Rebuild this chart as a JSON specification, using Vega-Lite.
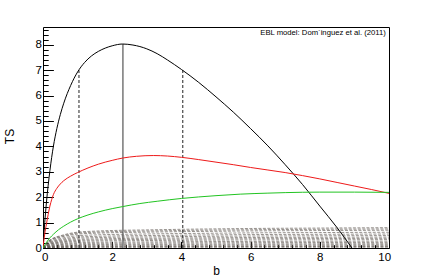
{
  "$schema": "https://vega.github.io/schema/vega-lite/v6.json",
  "width": 346,
  "height": 221,
  "autosize": {"type": "none"},
  "padding": {"left": 43, "top": 27, "right": 44, "bottom": 28},
  "background": "white",
  "config": {
    "view": {"stroke": "black", "strokeWidth": 1},
    "font": "Liberation Sans"
  },
  "datasets": {
    "curves": [
      {"c":"k","b":0,"t":0},{"c":"k","b":0.05,"t":1.0},{"c":"k","b":0.1,"t":1.8},{"c":"k","b":0.2,"t":3.05},{"c":"k","b":0.3,"t":4.0},{"c":"k","b":0.4,"t":4.7},{"c":"k","b":0.5,"t":5.25},{"c":"k","b":0.6,"t":5.7},{"c":"k","b":0.8,"t":6.4},{"c":"k","b":1.0,"t":6.93},{"c":"k","b":1.2,"t":7.3},{"c":"k","b":1.4,"t":7.56},{"c":"k","b":1.6,"t":7.74},{"c":"k","b":1.8,"t":7.87},{"c":"k","b":2.0,"t":7.96},{"c":"k","b":2.3,"t":8.03},{"c":"k","b":2.6,"t":7.99},{"c":"k","b":2.8,"t":7.93},{"c":"k","b":3.0,"t":7.84},{"c":"k","b":3.3,"t":7.65},{"c":"k","b":3.6,"t":7.4},{"c":"k","b":4.0,"t":7.03},{"c":"k","b":4.5,"t":6.52},{"c":"k","b":5.0,"t":5.95},{"c":"k","b":5.5,"t":5.35},{"c":"k","b":6.0,"t":4.7},{"c":"k","b":6.5,"t":4.02},{"c":"k","b":7.0,"t":3.28},{"c":"k","b":7.5,"t":2.5},{"c":"k","b":8.0,"t":1.65},{"c":"k","b":8.5,"t":0.8},{"c":"k","b":8.93,"t":0.0},
      {"c":"r","b":0,"t":0},{"c":"r","b":0.05,"t":0.55},{"c":"r","b":0.1,"t":0.95},{"c":"r","b":0.2,"t":1.65},{"c":"r","b":0.3,"t":2.1},{"c":"r","b":0.4,"t":2.35},{"c":"r","b":0.5,"t":2.52},{"c":"r","b":0.6,"t":2.65},{"c":"r","b":0.8,"t":2.83},{"c":"r","b":1.0,"t":2.97},{"c":"r","b":1.3,"t":3.15},{"c":"r","b":1.6,"t":3.3},{"c":"r","b":2.0,"t":3.45},{"c":"r","b":2.3,"t":3.54},{"c":"r","b":2.7,"t":3.61},{"c":"r","b":3.2,"t":3.64},{"c":"r","b":3.6,"t":3.62},{"c":"r","b":4.0,"t":3.57},{"c":"r","b":4.5,"t":3.48},{"c":"r","b":5.0,"t":3.38},{"c":"r","b":5.5,"t":3.28},{"c":"r","b":6.0,"t":3.17},{"c":"r","b":6.5,"t":3.07},{"c":"r","b":7.0,"t":2.97},{"c":"r","b":7.5,"t":2.85},{"c":"r","b":8.0,"t":2.72},{"c":"r","b":8.5,"t":2.58},{"c":"r","b":9.0,"t":2.44},{"c":"r","b":9.5,"t":2.3},{"c":"r","b":10,"t":2.15},
      {"c":"g","b":0,"t":0},{"c":"g","b":0.05,"t":0.12},{"c":"g","b":0.1,"t":0.22},{"c":"g","b":0.2,"t":0.4},{"c":"g","b":0.3,"t":0.54},{"c":"g","b":0.45,"t":0.72},{"c":"g","b":0.6,"t":0.86},{"c":"g","b":0.8,"t":1.02},{"c":"g","b":1.0,"t":1.15},{"c":"g","b":1.3,"t":1.3},{"c":"g","b":1.6,"t":1.42},{"c":"g","b":2.0,"t":1.55},{"c":"g","b":2.3,"t":1.63},{"c":"g","b":2.8,"t":1.75},{"c":"g","b":3.3,"t":1.84},{"c":"g","b":4.0,"t":1.95},{"c":"g","b":4.5,"t":2.01},{"c":"g","b":5.0,"t":2.06},{"c":"g","b":5.7,"t":2.12},{"c":"g","b":6.5,"t":2.16},{"c":"g","b":7.0,"t":2.18},{"c":"g","b":8.0,"t":2.2},{"c":"g","b":9.0,"t":2.2},{"c":"g","b":10,"t":2.19}
    ],
    "grays": [
      {"s":1,"b":0,"t":0},{"s":1,"b":0.1,"t":0.2},{"s":1,"b":0.25,"t":0.36},{"s":1,"b":0.5,"t":0.48},{"s":1,"b":1,"t":0.624},{"s":1,"b":1.5,"t":0.664},{"s":1,"b":2,"t":0.688},{"s":1,"b":3,"t":0.712},{"s":1,"b":4,"t":0.736},{"s":1,"b":5,"t":0.752},{"s":1,"b":6,"t":0.768},{"s":1,"b":8,"t":0.784},{"s":1,"b":10,"t":0.8},
      {"s":2,"b":0,"t":0},{"s":2,"b":0.1,"t":0.1875},{"s":2,"b":0.25,"t":0.3375},{"s":2,"b":0.5,"t":0.45},{"s":2,"b":1,"t":0.585},{"s":2,"b":1.5,"t":0.6225},{"s":2,"b":2,"t":0.645},{"s":2,"b":3,"t":0.6675},{"s":2,"b":4,"t":0.69},{"s":2,"b":5,"t":0.705},{"s":2,"b":6,"t":0.72},{"s":2,"b":8,"t":0.735},{"s":2,"b":10,"t":0.75},
      {"s":3,"b":0,"t":0},{"s":3,"b":0.1,"t":0.175},{"s":3,"b":0.25,"t":0.315},{"s":3,"b":0.5,"t":0.42},{"s":3,"b":1,"t":0.546},{"s":3,"b":1.5,"t":0.581},{"s":3,"b":2,"t":0.602},{"s":3,"b":3,"t":0.623},{"s":3,"b":4,"t":0.644},{"s":3,"b":5,"t":0.658},{"s":3,"b":6,"t":0.672},{"s":3,"b":8,"t":0.686},{"s":3,"b":10,"t":0.7},
      {"s":4,"b":0,"t":0},{"s":4,"b":0.1,"t":0.155},{"s":4,"b":0.25,"t":0.279},{"s":4,"b":0.5,"t":0.372},{"s":4,"b":1,"t":0.484},{"s":4,"b":1.5,"t":0.515},{"s":4,"b":2,"t":0.533},{"s":4,"b":3,"t":0.552},{"s":4,"b":4,"t":0.57},{"s":4,"b":5,"t":0.583},{"s":4,"b":6,"t":0.595},{"s":4,"b":8,"t":0.608},{"s":4,"b":10,"t":0.62},
      {"s":5,"b":0,"t":0},{"s":5,"b":0.1,"t":0.1375},{"s":5,"b":0.25,"t":0.2475},{"s":5,"b":0.5,"t":0.33},{"s":5,"b":1,"t":0.429},{"s":5,"b":1.5,"t":0.4565},{"s":5,"b":2,"t":0.473},{"s":5,"b":3,"t":0.4895},{"s":5,"b":4,"t":0.506},{"s":5,"b":5,"t":0.517},{"s":5,"b":6,"t":0.528},{"s":5,"b":8,"t":0.539},{"s":5,"b":10,"t":0.55},
      {"s":6,"b":0,"t":0},{"s":6,"b":0.1,"t":0.1225},{"s":6,"b":0.25,"t":0.2205},{"s":6,"b":0.5,"t":0.294},{"s":6,"b":1,"t":0.382},{"s":6,"b":1.5,"t":0.407},{"s":6,"b":2,"t":0.421},{"s":6,"b":3,"t":0.436},{"s":6,"b":4,"t":0.451},{"s":6,"b":5,"t":0.461},{"s":6,"b":6,"t":0.47},{"s":6,"b":8,"t":0.48},{"s":6,"b":10,"t":0.49},
      {"s":7,"b":0,"t":0},{"s":7,"b":0.1,"t":0.1075},{"s":7,"b":0.25,"t":0.1935},{"s":7,"b":0.5,"t":0.258},{"s":7,"b":1,"t":0.335},{"s":7,"b":1.5,"t":0.357},{"s":7,"b":2,"t":0.37},{"s":7,"b":3,"t":0.383},{"s":7,"b":4,"t":0.396},{"s":7,"b":5,"t":0.404},{"s":7,"b":6,"t":0.413},{"s":7,"b":8,"t":0.421},{"s":7,"b":10,"t":0.43},
      {"s":8,"b":0,"t":0},{"s":8,"b":0.1,"t":0.095},{"s":8,"b":0.25,"t":0.171},{"s":8,"b":0.5,"t":0.228},{"s":8,"b":1,"t":0.296},{"s":8,"b":1.5,"t":0.315},{"s":8,"b":2,"t":0.327},{"s":8,"b":3,"t":0.338},{"s":8,"b":4,"t":0.35},{"s":8,"b":5,"t":0.357},{"s":8,"b":6,"t":0.365},{"s":8,"b":8,"t":0.372},{"s":8,"b":10,"t":0.38},
      {"s":9,"b":0,"t":0},{"s":9,"b":0.1,"t":0.0825},{"s":9,"b":0.25,"t":0.1485},{"s":9,"b":0.5,"t":0.198},{"s":9,"b":1,"t":0.257},{"s":9,"b":1.5,"t":0.274},{"s":9,"b":2,"t":0.284},{"s":9,"b":3,"t":0.294},{"s":9,"b":4,"t":0.304},{"s":9,"b":5,"t":0.31},{"s":9,"b":6,"t":0.317},{"s":9,"b":8,"t":0.323},{"s":9,"b":10,"t":0.33},
      {"s":10,"b":0,"t":0},{"s":10,"b":0.1,"t":0.0675},{"s":10,"b":0.25,"t":0.1215},{"s":10,"b":0.5,"t":0.162},{"s":10,"b":1,"t":0.211},{"s":10,"b":1.5,"t":0.224},{"s":10,"b":2,"t":0.232},{"s":10,"b":3,"t":0.24},{"s":10,"b":4,"t":0.248},{"s":10,"b":5,"t":0.254},{"s":10,"b":6,"t":0.259},{"s":10,"b":8,"t":0.265},{"s":10,"b":10,"t":0.27},
      {"s":11,"b":0,"t":0},{"s":11,"b":0.1,"t":0.055},{"s":11,"b":0.25,"t":0.099},{"s":11,"b":0.5,"t":0.132},{"s":11,"b":1,"t":0.172},{"s":11,"b":1.5,"t":0.183},{"s":11,"b":2,"t":0.189},{"s":11,"b":3,"t":0.196},{"s":11,"b":4,"t":0.202},{"s":11,"b":5,"t":0.207},{"s":11,"b":6,"t":0.211},{"s":11,"b":8,"t":0.216},{"s":11,"b":10,"t":0.22},
      {"s":12,"b":0,"t":0},{"s":12,"b":0.1,"t":0.0425},{"s":12,"b":0.25,"t":0.0765},{"s":12,"b":0.5,"t":0.102},{"s":12,"b":1,"t":0.133},{"s":12,"b":1.5,"t":0.141},{"s":12,"b":2,"t":0.146},{"s":12,"b":3,"t":0.151},{"s":12,"b":4,"t":0.156},{"s":12,"b":5,"t":0.16},{"s":12,"b":6,"t":0.163},{"s":12,"b":8,"t":0.167},{"s":12,"b":10,"t":0.17},
      {"s":13,"b":0,"t":0},{"s":13,"b":0.1,"t":0.0325},{"s":13,"b":0.25,"t":0.0585},{"s":13,"b":0.5,"t":0.078},{"s":13,"b":1,"t":0.101},{"s":13,"b":1.5,"t":0.108},{"s":13,"b":2,"t":0.112},{"s":13,"b":3,"t":0.116},{"s":13,"b":4,"t":0.12},{"s":13,"b":5,"t":0.122},{"s":13,"b":6,"t":0.125},{"s":13,"b":8,"t":0.127},{"s":13,"b":10,"t":0.13},
      {"s":14,"b":0,"t":0},{"s":14,"b":0.1,"t":0.0225},{"s":14,"b":0.25,"t":0.0405},{"s":14,"b":0.5,"t":0.054},{"s":14,"b":1,"t":0.07},{"s":14,"b":1.5,"t":0.075},{"s":14,"b":2,"t":0.077},{"s":14,"b":3,"t":0.08},{"s":14,"b":4,"t":0.083},{"s":14,"b":5,"t":0.085},{"s":14,"b":6,"t":0.086},{"s":14,"b":8,"t":0.088},{"s":14,"b":10,"t":0.09},
      {"s":15,"b":0,"t":0},{"s":15,"b":0.1,"t":0.015},{"s":15,"b":0.25,"t":0.027},{"s":15,"b":0.5,"t":0.036},{"s":15,"b":1,"t":0.047},{"s":15,"b":1.5,"t":0.05},{"s":15,"b":2,"t":0.052},{"s":15,"b":3,"t":0.053},{"s":15,"b":4,"t":0.055},{"s":15,"b":5,"t":0.056},{"s":15,"b":6,"t":0.058},{"s":15,"b":8,"t":0.059},{"s":15,"b":10,"t":0.06},
      {"s":16,"b":0,"t":0},{"s":16,"b":0.1,"t":0.0075},{"s":16,"b":0.25,"t":0.0135},{"s":16,"b":0.5,"t":0.018},{"s":16,"b":1,"t":0.023},{"s":16,"b":1.5,"t":0.025},{"s":16,"b":2,"t":0.026},{"s":16,"b":3,"t":0.027},{"s":16,"b":4,"t":0.028},{"s":16,"b":5,"t":0.028},{"s":16,"b":6,"t":0.029},{"s":16,"b":8,"t":0.029},{"s":16,"b":10,"t":0.03}
    ],
    "dashed": [
      {"b": 1.04, "lo": 0, "hi": 7.0},
      {"b": 4.04, "lo": 0, "hi": 7.0}
    ],
    "solid": [
      {"b": 2.31, "lo": 0, "hi": 8.03}
    ],
    "note": [
      {"b": 9.91, "t": 8.4, "label": "EBL model: Dom`inguez et al. (2011)"}
    ]
  },
  "encoding": {
    "x": {
      "type": "quantitative",
      "scale": {"domain": [0, 10], "nice": false, "zero": false},
      "axis": {
        "title": "b",
        "values": [0,0.4,0.8,1.2,1.6,2,2.4,2.8,3.2,3.6,4,4.4,4.8,5.2,5.6,6,6.4,6.8,7.2,7.6,8,8.4,8.8,9.2,9.6,10],
        "labelExpr": "datum.value % 2 === 0 ? format(datum.value, 'd') : ''",
        "labelOverlap": false,
        "labelFlush": true,
        "labelFlushOffset": 1.6,
        "labelFont": "Liberation Sans",
        "labelFontSize": 11.5,
        "labelColor": "black",
        "labelPadding": 9.6,
        "tickColor": "black",
        "tickWidth": 1,
        "tickSize": {"condition": {"test": "datum.value % 2 === 0", "value": -6.6}, "value": -3.3},
        "domain": false,
        "grid": false,
        "titleFont": "Liberation Sans",
        "titleFontSize": 12,
        "titleFontWeight": "normal",
        "titleColor": "black",
        "titleX": 173,
        "titleY": 26,
        "titleAlign": "center",
        "titleBaseline": "alphabetic"
      }
    },
    "y": {
      "type": "quantitative",
      "scale": {"domain": [0, 8.7], "nice": false, "zero": false},
      "axis": {
        "title": "TS",
        "values": [0,0.2,0.4,0.6,0.8,1,1.2,1.4,1.6,1.8,2,2.2,2.4,2.6,2.8,3,3.2,3.4,3.6,3.8,4,4.2,4.4,4.6,4.8,5,5.2,5.4,5.6,5.8,6,6.2,6.4,6.6,6.8,7,7.2,7.4,7.6,7.8,8,8.2,8.4,8.6],
        "labelExpr": "datum.value % 1 === 0 ? format(datum.value, 'd') : ''",
        "labelOverlap": false,
        "labelFlush": false,
        "labelFont": "Liberation Sans",
        "labelFontSize": 11.5,
        "labelColor": "black",
        "labelPadding": 11.9,
        "tickColor": "black",
        "tickWidth": 1,
        "tickSize": {"condition": {"test": "datum.value % 1 === 0", "value": -10.4}, "value": -5.2},
        "domain": false,
        "grid": false,
        "titleFont": "Liberation Sans",
        "titleFontSize": 12,
        "titleFontWeight": "normal",
        "titleColor": "black",
        "titleAngle": 270,
        "titleX": -30,
        "titleY": 109,
        "titleAlign": "center",
        "titleBaseline": "alphabetic"
      }
    }
  },
  "layer": [
    {
      "data": {"name": "grays"},
      "mark": {"type": "line", "color": "#4f4640", "strokeWidth": 0.8, "strokeDash": [3, 1.5], "opacity": 0.75, "interpolate": "monotone", "clip": true},
      "encoding": {
        "x": {"field": "b", "type": "quantitative"},
        "y": {"field": "t", "type": "quantitative"},
        "detail": {"field": "s", "type": "nominal"}
      }
    },
    {
      "data": {"name": "dashed"},
      "mark": {"type": "rule", "color": "#222222", "strokeWidth": 1, "strokeDash": [3, 2]},
      "encoding": {
        "x": {"field": "b", "type": "quantitative"},
        "y": {"field": "lo", "type": "quantitative"},
        "y2": {"field": "hi"}
      }
    },
    {
      "data": {"name": "solid"},
      "mark": {"type": "rule", "color": "#555555", "strokeWidth": 1.2},
      "encoding": {
        "x": {"field": "b", "type": "quantitative"},
        "y": {"field": "lo", "type": "quantitative"},
        "y2": {"field": "hi"}
      }
    },
    {
      "data": {"name": "curves"},
      "mark": {"type": "line", "strokeWidth": 1, "interpolate": "monotone", "clip": true},
      "encoding": {
        "x": {"field": "b", "type": "quantitative"},
        "y": {"field": "t", "type": "quantitative"},
        "color": {"field": "c", "type": "nominal", "scale": {"domain": ["g", "r", "k"], "range": ["#22c422", "#ee1a1a", "#000000"]}, "legend": null}
      }
    },
    {
      "data": {"name": "note"},
      "mark": {"type": "text", "align": "right", "baseline": "alphabetic", "font": "Liberation Sans", "fontSize": 7.7, "color": "black"},
      "encoding": {
        "x": {"field": "b", "type": "quantitative"},
        "y": {"field": "t", "type": "quantitative"},
        "text": {"field": "label"}
      }
    }
  ]
}
